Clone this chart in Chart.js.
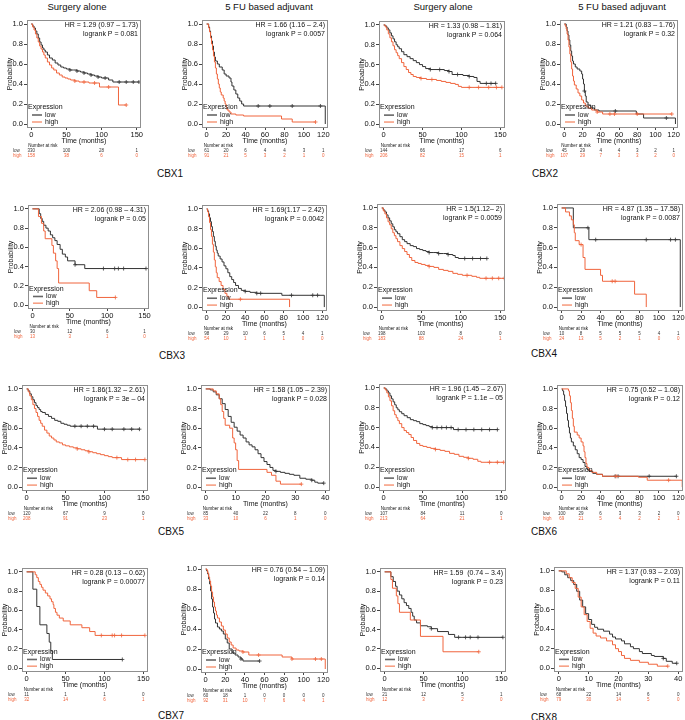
<!DOCTYPE html>
<html>
<head>
<meta charset="utf-8">
<script src="https://cdn.jsdelivr.net/npm/chart.js@4.4.1/dist/chart.umd.min.js"></script>
<style>
  body { margin: 0; background: #fff; }
  #page { position: relative; width: 685px; height: 720px; overflow: hidden; font-family: "Liberation Sans", Arial, sans-serif; color: #111; }
  .head, .gene { position: absolute; transform: translate(-50%, -50%); white-space: nowrap; }
  .head { font-size: 9.5px; }
  .gene { font-size: 10px; }
  canvas { position: absolute; }
</style>
</head>
<body>
<div id="page"></div>
<script>
// Kaplan-Meier step points: [months, survival] and [months, survival, 1] for a censor mark
const cbx1SurgLow = [[0,1],[2,0.98],[4,0.96],[6,0.93],[8,0.9],[10,0.86],[12,0.82],[14,0.79],[16,0.76],[18,0.74],[20,0.72],[23,0.69],[26,0.66],[30,0.64],[34,0.61],[38,0.59],[42,0.57],[46,0.56],[50,0.55],[55,0.54,1],[60,0.54],[65,0.53,1],[70,0.52],[75,0.51,1],[80,0.5],[85,0.49,1],[90,0.48],[95,0.47,1],[100,0.46],[105,0.46,1],[110,0.44],[116,0.42],[125,0.42,1],[135,0.42,1],[145,0.42,1],[153,0.42,1]];
const cbx1SurgHigh = [[0,1],[2,0.97],[4,0.94],[6,0.9],[8,0.86],[10,0.82],[12,0.78],[14,0.75],[16,0.72],[18,0.69],[20,0.66],[23,0.62],[26,0.59],[29,0.56],[32,0.54],[36,0.51],[40,0.49],[44,0.47],[48,0.46],[52,0.45],[56,0.44],[62,0.43,1],[68,0.42],[75,0.42,1],[82,0.41],[90,0.41,1],[97,0.37],[110,0.37,1],[124,0.19],[135,0.19,1]];
const cbx1FuLow = [[0,1],[2,0.97],[3,0.93],[4,0.88],[5,0.83],[6,0.78],[7,0.72],[8,0.67],[9,0.63],[11,0.6],[13,0.57],[16,0.54],[18,0.5],[20,0.48],[23,0.46],[25,0.42],[26,0.38],[28,0.34],[30,0.3],[32,0.26],[34,0.23],[36,0.2],[38,0.18],[53,0.18,1],[65,0.18,1],[88,0.18,1],[117,0.18,1],[122,0]];
const cbx1FuHigh = [[0,1],[2,0.96],[3,0.92],[4,0.86],[5,0.8],[6,0.74],[7,0.68],[8,0.62],[9,0.56],[10,0.5],[11,0.45],[12,0.4],[13,0.36],[14,0.32],[15,0.29],[17,0.26],[18,0.23],[19,0.2],[20,0.17],[21,0.14],[23,0.12],[25,0.1],[30,0.09],[38,0.08],[77,0.05],[88,0.02],[112,0.02,1]];
const cbx2SurgLow = [[0,1],[2,0.99],[4,0.97],[6,0.95],[8,0.92],[10,0.89],[12,0.86],[14,0.83],[16,0.8],[18,0.78],[20,0.76],[23,0.73],[26,0.7],[30,0.68],[34,0.66],[38,0.64],[42,0.62],[46,0.6],[50,0.58],[54,0.56],[60,0.55,1],[66,0.55],[72,0.55,1],[78,0.54],[84,0.53,1],[88,0.5],[95,0.5,1],[102,0.49],[110,0.48,1],[116,0.47],[120,0.43],[124,0.41],[132,0.41,1],[138,0.41,1],[144,0.41,1]];
const cbx2SurgHigh = [[0,1],[2,0.98],[4,0.95],[6,0.91],[8,0.87],[10,0.83],[12,0.79],[14,0.75],[16,0.72],[18,0.69],[20,0.66],[23,0.62],[26,0.58],[29,0.55],[32,0.52],[35,0.5],[38,0.48],[42,0.47],[48,0.46,1],[55,0.45],[62,0.45,1],[68,0.44],[74,0.43],[80,0.42],[86,0.41],[92,0.4],[96,0.38],[100,0.37],[110,0.37,1],[122,0.37,1],[135,0.37,1],[145,0.37,1],[152,0.37,1]];
const cbx2FuLow = [[0,1],[2,0.97],[3,0.93],[4,0.89],[5,0.84],[6,0.79],[7,0.73],[8,0.68],[9,0.63],[10,0.6],[12,0.57],[14,0.55],[17,0.53],[19,0.5],[20,0.45],[21,0.4],[22,0.33,1],[23,0.28],[24,0.22],[26,0.19],[29,0.16],[33,0.14],[38,0.13],[56,0.13,1],[79,0.1],[87,0.06],[112,0.06,1],[122,0]];
const cbx2FuHigh = [[0,1],[1,0.98],[2,0.95],[3,0.9],[4,0.84],[5,0.77],[6,0.7],[7,0.62],[8,0.55],[9,0.48],[10,0.43],[11,0.39],[13,0.35],[15,0.31],[17,0.28],[19,0.24],[21,0.21],[23,0.18],[26,0.16],[30,0.14],[36,0.12,1],[42,0.1],[50,0.1,1],[55,0.1,1],[80,0.1,1],[118,0.1,1]];
const cbx3SurgLow = [[0,1],[9,0.95],[11,0.9],[13,0.87],[15,0.83],[18,0.8],[21,0.77],[24,0.73],[27,0.7],[30,0.67],[33,0.63],[37,0.58],[40,0.53],[44,0.5],[47,0.46],[57,0.42,1],[70,0.38],[95,0.38,1],[110,0.38,1],[115,0.38,1],[122,0.38,1],[152,0.38,1]];
const cbx3SurgHigh = [[0,1],[8,0.92],[12,0.85],[15,0.77],[17,0.69],[26,0.62],[28,0.54],[31,0.46],[33,0.38],[35,0.23],[76,0.15],[86,0.08],[111,0.08,1]];
const cbx3FuLow = [[0,1],[1,0.98],[2,0.95],[3,0.91],[4,0.87],[5,0.82],[6,0.77],[7,0.72],[8,0.67],[9,0.62],[10,0.58],[11,0.55],[12,0.52],[14,0.49],[16,0.46],[18,0.42],[20,0.39],[22,0.35],[24,0.31],[26,0.28],[28,0.25],[30,0.22],[33,0.19],[36,0.17],[40,0.16,1],[45,0.15],[52,0.14,1],[56,0.14,1],[78,0.12],[88,0.12,1],[110,0.12,1],[115,0.12,1],[122,0]];
const cbx3FuHigh = [[0,1],[1,0.97],[2,0.92],[3,0.86],[4,0.79],[5,0.72],[6,0.64],[7,0.56],[8,0.48],[9,0.41],[10,0.35],[11,0.3],[13,0.26],[15,0.22],[17,0.18],[19,0.14],[21,0.11],[23,0.08],[35,0.08,1],[86,0]];
const cbx4SurgLow = [[0,1],[2,0.98],[4,0.96],[6,0.93],[8,0.9],[10,0.87],[12,0.84],[14,0.81],[16,0.78],[18,0.76],[20,0.74],[23,0.71],[26,0.68],[29,0.66],[32,0.64],[36,0.62],[40,0.61],[44,0.59],[48,0.58],[52,0.57],[56,0.56],[60,0.55,1],[66,0.55],[72,0.54,1],[78,0.54],[84,0.53,1],[90,0.52],[93,0.5],[97,0.49],[105,0.49,1],[115,0.49,1],[125,0.49,1],[133,0.49,1]];
const cbx4SurgHigh = [[0,1],[2,0.97],[4,0.94],[6,0.9],[8,0.86],[10,0.83],[12,0.79],[14,0.75],[16,0.72],[18,0.69],[20,0.66],[23,0.62],[26,0.59],[29,0.56],[32,0.53],[35,0.5],[38,0.47],[42,0.45],[46,0.44],[50,0.43],[55,0.42],[60,0.41,1],[66,0.4],[72,0.38],[78,0.37],[84,0.36],[90,0.34],[96,0.33],[102,0.32],[108,0.32,1],[114,0.31],[120,0.3],[124,0.29],[132,0.29,1],[140,0.29,1],[148,0.29,1],[155,0.29,1]];
const cbx4FuLow = [[0,1],[12,0.8],[27,0.8,1],[28,0.68],[35,0.68,1],[87,0.68,1],[112,0.68,1],[117,0.68,1],[122,0]];
const cbx4FuHigh = [[0,1],[4,0.96],[8,0.92],[10,0.88],[12,0.83],[13,0.75],[14,0.67],[18,0.63],[20,0.63,1],[22,0.5],[24,0.38],[40,0.32],[42,0.26],[52,0.26,1],[55,0.26,1],[75,0.13],[87,0]];
const cbx5SurgLow = [[0,1],[2,0.98],[4,0.95],[6,0.92],[8,0.89],[10,0.86],[12,0.83],[14,0.81],[16,0.79],[18,0.77],[20,0.76],[24,0.74],[28,0.72],[32,0.7],[36,0.68],[40,0.67],[44,0.65],[48,0.64],[52,0.63],[56,0.62],[62,0.62,1],[70,0.62,1],[78,0.62,1],[86,0.62,1],[91,0.59],[100,0.59,1],[110,0.59,1],[125,0.59,1],[135,0.59,1],[145,0.59,1]];
const cbx5SurgHigh = [[0,1],[2,0.97],[4,0.93],[6,0.89],[8,0.84],[10,0.8],[12,0.76],[14,0.72],[16,0.68],[18,0.65],[20,0.62],[23,0.58],[26,0.55],[29,0.52],[32,0.5],[35,0.48],[38,0.46],[42,0.45],[46,0.43],[50,0.42],[55,0.41],[60,0.4],[65,0.39,1],[70,0.38],[75,0.37],[80,0.36,1],[85,0.35],[90,0.34],[95,0.33],[100,0.32],[105,0.31],[110,0.3],[116,0.3,1],[122,0.28],[130,0.28,1],[140,0.28,1],[152,0.28,1]];
const cbx5FuLow = [[0,1],[1.5,0.99],[2.5,0.97],[3.5,0.94],[4.5,0.9],[5.5,0.85],[6.5,0.79],[7.5,0.72],[8.5,0.66],[9.5,0.61],[10.5,0.57],[11.5,0.53],[12.5,0.5],[13.5,0.46],[14.5,0.43],[15.5,0.41],[16.5,0.38],[17.5,0.34],[18.5,0.3],[19.5,0.26],[20.5,0.23],[21.5,0.2],[22.5,0.17],[23.5,0.16,1],[25,0.15],[26.5,0.14],[28,0.13],[29.5,0.12],[31.5,0.09],[33.5,0.08],[35.5,0.07,1],[36.5,0.05],[37.5,0.04],[39.5,0.04,1]];
const cbx5FuHigh = [[0,1],[2.5,0.98],[3.5,0.95],[4.5,0.9],[5,0.84],[5.5,0.77],[6,0.7],[6.5,0.63],[8,0.6],[9,0.5],[9.5,0.45],[10,0.38],[10.5,0.27],[11,0.18],[20.5,0.15],[22,0.12],[23.5,0.06],[25,0.03],[32,0.03,1]];
const cbx6SurgLow = [[0,1],[2,0.99],[4,0.97],[6,0.95],[8,0.92],[10,0.89],[12,0.86],[14,0.83],[16,0.8],[18,0.78],[20,0.76],[23,0.74],[26,0.72],[30,0.7],[34,0.68],[38,0.67],[42,0.66],[46,0.64],[50,0.63],[54,0.62],[58,0.61],[62,0.6,1],[68,0.6,1],[74,0.6,1],[80,0.6,1],[86,0.6,1],[89,0.58],[95,0.58,1],[105,0.58,1],[115,0.58,1],[125,0.58,1],[135,0.58,1],[145,0.58,1]];
const cbx6SurgHigh = [[0,1],[2,0.98],[4,0.95],[6,0.91],[8,0.87],[10,0.82],[12,0.77],[14,0.73],[16,0.7],[18,0.67],[20,0.64],[23,0.6],[26,0.57],[29,0.55],[32,0.53],[35,0.5],[38,0.47],[42,0.44],[46,0.42],[50,0.41],[55,0.4],[60,0.39],[66,0.38,1],[72,0.37],[78,0.36],[84,0.34],[90,0.33],[96,0.31],[102,0.3],[108,0.29,1],[114,0.28],[120,0.26],[124,0.25],[135,0.25,1],[145,0.25,1],[153,0.25,1]];
const cbx6FuLow = [[0,1],[1,0.98],[2,0.94],[3,0.88],[4,0.82],[5,0.75],[6,0.68],[7,0.61],[8,0.55],[9,0.5],[10,0.46],[12,0.42],[14,0.38],[16,0.34],[18,0.3],[20,0.28],[22,0.25],[24,0.21],[26,0.18],[28,0.16],[32,0.14],[36,0.13],[42,0.11],[55,0.11,1],[58,0.11,1],[90,0.11,1],[118,0.11,1]];
const cbx6FuHigh = [[0,1],[7,0.98],[8,0.93],[9,0.86],[10,0.78],[11,0.7],[12,0.62],[13,0.56],[16,0.53],[18,0.5],[20,0.46],[22,0.42],[23,0.36],[24,0.3],[25,0.24],[26,0.2],[28,0.17],[31,0.15],[36,0.13],[42,0.11],[56,0.11,1],[79,0.1],[88,0.07],[110,0.07,1],[124,0]];
const cbx7SurgLow = [[0,1],[8,0.82],[13,0.64],[17,0.45],[26,0.36],[29,0.27],[31,0.18],[33,0.09],[123,0.09,1]];
const cbx7SurgHigh = [[0,1],[11,0.97],[13,0.94],[15,0.9],[17,0.87],[19,0.84],[21,0.81],[24,0.78],[27,0.75],[30,0.72],[32,0.69],[34,0.66],[35,0.62],[37,0.58],[39,0.55],[42,0.52],[47,0.49],[56,0.45],[71,0.42],[81,0.38],[88,0.34],[96,0.34,1],[110,0.34,1],[113,0.34,1],[122,0.34,1],[152,0.34,1]];
const cbx7FuLow = [[0,1],[1,0.98],[2,0.95],[3,0.9],[4,0.85],[5,0.78],[6,0.7],[7,0.62],[8,0.56],[9,0.5],[10,0.46],[12,0.42],[14,0.4],[16,0.38],[18,0.35],[20,0.3],[22,0.26],[24,0.2],[27,0.16],[30,0.14],[33,0.12],[36,0.1,1],[38,0.08],[55,0.08,1]];
const cbx7FuHigh = [[0,1],[1,0.99],[2,0.96],[3,0.92],[4,0.88],[5,0.83],[6,0.77],[7,0.72],[8,0.67],[9,0.62],[10,0.58],[11,0.54],[12,0.51],[14,0.47],[16,0.43],[18,0.39],[20,0.35],[22,0.31],[24,0.27],[26,0.24],[28,0.21],[31,0.19],[34,0.18],[38,0.17,1],[44,0.14],[54,0.14,1],[78,0.12],[88,0.1,1],[112,0.1,1],[118,0.1,1],[122,0]];
const cbx8SurgLow = [[0,1],[8,0.95],[11,0.9],[14,0.85],[16,0.8],[19,0.76],[22,0.72],[25,0.68],[28,0.65],[31,0.62],[34,0.58],[36,0.54],[38,0.5],[41,0.47],[46,0.44],[55,0.43],[60,0.41,1],[68,0.38],[82,0.35],[90,0.32],[95,0.32,1],[104,0.32,1],[110,0.32,1],[120,0.32,1],[152,0.32,1]];
const cbx8SurgHigh = [[0,1],[8,0.92],[10,0.83],[15,0.75],[17,0.67],[19,0.58],[33,0.5],[46,0.33],[75,0.17],[121,0.17,1]];
const cbx8FuLow = [[0,1],[1,0.99],[2,0.96],[3,0.93],[4,0.9],[5,0.86],[6,0.79],[7,0.7],[8,0.63],[9,0.56],[10,0.5],[11,0.45],[12,0.42],[13,0.4],[15,0.38],[17,0.35],[18,0.32],[19,0.3],[21,0.28],[22,0.25],[24,0.22],[25,0.2],[27,0.17],[28,0.15],[31,0.13],[32,0.12],[35,0.1,1],[36,0.07],[38,0.05],[39.5,0.05,1]];
const cbx8FuHigh = [[0,1],[2.5,0.97],[3.5,0.93],[4.5,0.88],[5.5,0.82],[6.5,0.73],[7.5,0.63],[8.5,0.55],[9.5,0.48],[10.5,0.41],[11.5,0.36],[12.5,0.33],[14,0.31],[16,0.28],[18,0.24],[19,0.2],[20,0.17],[21,0.13],[22,0.1],[24,0.08],[27,0.06],[30,0.04],[33,0.02],[36.5,0.02,1]];

// number at risk, one value per x tick
const cbx1SurgRisk = [[330,100,28,1],[158,38,6,0]];
const cbx1FuRisk = [[61,20,6,4,4,3,1],[91,21,5,3,2,1,0]];
const cbx2SurgRisk = [[144,66,17,6],[206,82,15,1]];
const cbx2FuRisk = [[45,29,4,4,3,2,1],[107,29,7,3,3,2,0]];
const cbx3SurgRisk = [[30,12,6,1],[13,3,1,0]];
const cbx3FuRisk = [[98,29,10,6,5,4,1],[54,10,1,1,1,0,0]];
const cbx4SurgRisk = [[198,103,8,0],[183,88,24,1]];
const cbx4FuRisk = [[10,8,5,5,5,4,1],[24,13,5,2,1,0,0]];
const cbx5SurgRisk = [[120,67,9,0],[208,91,23,1]];
const cbx5FuRisk = [[85,40,22,8,0],[33,10,6,1,0]];
const cbx6SurgRisk = [[107,84,11,0],[213,64,21,1]];
const cbx6FuRisk = [[100,29,6,3,3,2,0],[69,21,5,4,2,2,1]];
const cbx7SurgRisk = [[11,1,1,0],[32,14,6,1]];
const cbx7FuRisk = [[60,18,1,0,0,0,0],[92,31,10,7,6,4,1]];
const cbx8SurgRisk = [[21,12,5,1],[12,3,2,0]];
const cbx8FuRisk = [[68,22,14,6,0],[79,30,14,5,0]];

const hrLabels = [
  ['HR = 1.29 (0.97 \u2013 1.73)', 'logrank P = 0.081'],
  ['HR = 1.66 (1.16 \u2013 2.4)', 'logrank P = 0.0057'],
  ['HR = 1.33 (0.98 \u2013 1.81)', 'logrank P = 0.064'],
  ['HR = 1.21 (0.83 \u2013 1.76)', 'logrank P = 0.32'],
  ['HR = 2.06 (0.98 \u2013 4.31)', 'logrank P = 0.05'],
  ['HR = 1.69(1.17 \u2013 2.42)', 'logrank P = 0.0042'],
  ['HR = 1.5(1.12\u2013 2)', 'logrank P = 0.0059'],
  ['HR = 4.87 (1.35 \u2013 17.58)', 'logrank P = 0.0087'],
  ['HR = 1.86(1.32 \u2013 2.61)', 'logrank P = 3e \u2013 04'],
  ['HR = 1.58 (1.05 \u2013 2.39)', 'logrank P = 0.028'],
  ['HR = 1.96 (1.45 \u2013 2.67)', 'logrank P = 1.1e \u2013 05'],
  ['HR = 0.75 (0.52 \u2013 1.08)', 'logrank P = 0.12'],
  ['HR = 0.28 (0.13 \u2013 0.62)', 'logrank P = 0.00077'],
  ['HR = 0.76 (0.54 \u2013 1.09)', 'logrank P = 0.14'],
  ['HR= 1.59  (0.74 \u2013 3.4)', 'logrank P = 0.23'],
  ['HR = 1.37 (0.93 \u2013 2.03)', 'logrank P = 0.11']
];

const ticks150 = [0, 50, 100, 150];
const ticks120 = [0, 20, 40, 60, 80, 100, 120];
const ticks40 = [0, 10, 20, 30, 40];
const probTicks = [0, 0.2, 0.4, 0.6, 0.8, 1.0];

const colHeads = ['Surgery alone', '5 FU based adjuvant', 'Surgery alone', '5 FU based adjuvant'];
const geneNames = ['CBX1', 'CBX2', 'CBX3', 'CBX4', 'CBX5', 'CBX6', 'CBX7', 'CBX8'];

// layout (page pixels)
const headPos = [[77, 6], [269, 6], [443, 6], [622, 6]];
const genePos = [[170, 173], [545, 173], [172, 355], [544, 353], [171, 531], [544, 531], [171, 715], [544, 717]];
const boxes = [
  [27, 20, 141, 128], [202, 20, 328, 128], [379, 21, 505, 128], [560, 20, 678, 128],
  [28, 205, 149, 309], [202, 205, 327, 311], [377, 204, 505, 311], [557, 204, 683, 311],
  [22, 385, 148, 491], [201, 385, 330, 491], [379, 384, 506, 491], [557, 385, 683, 491],
  [22, 568, 148, 672], [201, 565, 328, 673], [380, 568, 506, 672], [554, 567, 683, 672]
];

const panels = [
  [cbx1SurgLow, cbx1SurgHigh, ticks150, cbx1SurgRisk], [cbx1FuLow, cbx1FuHigh, ticks120, cbx1FuRisk],
  [cbx2SurgLow, cbx2SurgHigh, ticks150, cbx2SurgRisk], [cbx2FuLow, cbx2FuHigh, ticks120, cbx2FuRisk],
  [cbx3SurgLow, cbx3SurgHigh, ticks150, cbx3SurgRisk], [cbx3FuLow, cbx3FuHigh, ticks120, cbx3FuRisk],
  [cbx4SurgLow, cbx4SurgHigh, ticks150, cbx4SurgRisk], [cbx4FuLow, cbx4FuHigh, ticks120, cbx4FuRisk],
  [cbx5SurgLow, cbx5SurgHigh, ticks150, cbx5SurgRisk], [cbx5FuLow, cbx5FuHigh, ticks40, cbx5FuRisk],
  [cbx6SurgLow, cbx6SurgHigh, ticks150, cbx6SurgRisk], [cbx6FuLow, cbx6FuHigh, ticks120, cbx6FuRisk],
  [cbx7SurgLow, cbx7SurgHigh, ticks150, cbx7SurgRisk], [cbx7FuLow, cbx7FuHigh, ticks120, cbx7FuRisk],
  [cbx8SurgLow, cbx8SurgHigh, ticks150, cbx8SurgRisk], [cbx8FuLow, cbx8FuHigh, ticks40, cbx8FuRisk]
];

const lowColor = '#333333';
const highColor = '#f0643c';
const FONT = '"Liberation Sans", Arial, sans-serif';
Chart.defaults.font.family = FONT;
Chart.defaults.color = '#111';

const page = document.getElementById('page');

colHeads.forEach((t, i) => addLabel('head', t, headPos[i]));
geneNames.forEach((t, i) => addLabel('gene', t, genePos[i]));
panels.forEach((p, i) => renderPanel(p, hrLabels[i], boxes[i]));

function addLabel(cls, text, pos) {
  const d = document.createElement('div');
  d.className = cls;
  d.textContent = text;
  d.style.left = pos[0] + 'px';
  d.style.top = pos[1] + 'px';
  page.appendChild(d);
}

function toPoints(curve) {
  return curve.map(d => ({ x: d[0], y: d[1], c: d[2] || 0 }));
}

function curveDataset(curve, color) {
  return {
    data: toPoints(curve),
    borderColor: color,
    borderWidth: 1,
    stepped: true,
    fill: false,
    pointStyle: 'cross',
    pointRadius: ctx => (ctx.raw && ctx.raw.c ? 2 : 0),
    pointHoverRadius: 0,
    pointBorderColor: color,
    pointBorderWidth: 0.8
  };
}

function overlay(hr, ticks, risk) {
  return {
    id: 'kmOverlay',
    afterDraw(chart) {
      const { ctx, chartArea: a, scales: { x, y } } = chart;
      ctx.save();
      ctx.strokeStyle = '#8f8f8f';
      ctx.lineWidth = 1;
      ctx.strokeRect(a.left + 0.5, a.top + 0.5, a.right - a.left - 1, a.bottom - a.top - 1);

      ctx.fillStyle = '#111';
      ctx.font = '7px ' + FONT;
      ctx.textBaseline = 'middle';
      ctx.textAlign = 'right';
      ctx.fillText(hr[0], a.right - 3, a.top + 5);
      ctx.fillText(hr[1], a.right - 3, a.top + 14);

      // legend in lower left corner
      ctx.textAlign = 'left';
      const ly = [y.getPixelForValue(0.17), y.getPixelForValue(0.09), y.getPixelForValue(0.02)];
      ctx.fillText('Expression', a.left + 1, ly[0]);
      [['low', '#666666'], ['high', '#f7a084']].forEach((e, k) => {
        ctx.strokeStyle = e[1];
        ctx.lineWidth = 1.6;
        ctx.beginPath();
        ctx.moveTo(a.left + 5, ly[k + 1]);
        ctx.lineTo(a.left + 15, ly[k + 1]);
        ctx.stroke();
        ctx.fillStyle = '#111';
        ctx.fillText(e[0], a.left + 18, ly[k + 1]);
      });

      // number at risk table
      ctx.font = '4.5px ' + FONT;
      ctx.fillText('Number at risk', x.getPixelForValue(0) - 3, a.bottom + 18);
      [['low', lowColor], ['high', highColor]].forEach((e, k) => {
        const ry = a.bottom + 23 + k * 5;
        ctx.fillStyle = e[1];
        ctx.textAlign = 'left';
        ctx.fillText(e[0], a.left - 14, ry);
        ctx.textAlign = 'center';
        ticks.forEach((t, j) => ctx.fillText(String(risk[k][j]), x.getPixelForValue(t), ry));
      });
      ctx.restore();
    }
  };
}

function renderPanel(p, hr, box) {
  const [low, high, ticks, risk] = p;
  const [l, t, r, b] = box;
  const tMax = ticks[ticks.length - 1];
  const ext = tMax * 0.04;

  const canvas = document.createElement('canvas');
  const w = (r - l) + 30 + 3;
  const h = (b - t) + 6 + 33;
  canvas.width = w;
  canvas.height = h;
  canvas.style.left = (l - 30) + 'px';
  canvas.style.top = (t - 6) + 'px';
  canvas.style.width = w + 'px';
  canvas.style.height = h + 'px';
  page.appendChild(canvas);

  new Chart(canvas.getContext('2d'), {
    type: 'line',
    data: {
      datasets: [curveDataset(high, highColor), curveDataset(low, lowColor)]
    },
    options: {
      responsive: false,
      animation: false,
      events: [],
      layout: { padding: { left: 0, top: 6, right: 3, bottom: 16 } },
      plugins: { legend: { display: false }, tooltip: { enabled: false } },
      scales: {
        x: {
          type: 'linear',
          min: -ext,
          max: tMax + ext,
          afterBuildTicks: s => { s.ticks = ticks.map(v => ({ value: v })); },
          afterFit: s => { s.height = 17; },
          grid: { drawOnChartArea: false, tickLength: 2, color: '#444', tickColor: '#444' },
          border: { display: false },
          ticks: { font: { size: 7.5 }, padding: 0, maxRotation: 0, autoSkip: false },
          title: { display: true, text: 'Time (months)', font: { size: 7 }, padding: 0 }
        },
        y: {
          min: -0.04,
          max: 1.04,
          afterBuildTicks: s => { s.ticks = probTicks.map(v => ({ value: v })); },
          afterFit: s => { s.width = 30; },
          grid: { drawOnChartArea: false, tickLength: 3, color: '#444', tickColor: '#444' },
          border: { display: false },
          ticks: { font: { size: 7.5 }, padding: 1, callback: v => v.toFixed(1) },
          title: { display: true, text: 'Probability', font: { size: 7 }, padding: { top: 9, bottom: 0 } }
        }
      }
    },
    plugins: [overlay(hr, ticks, risk)]
  });
}
</script>
</body>
</html>
